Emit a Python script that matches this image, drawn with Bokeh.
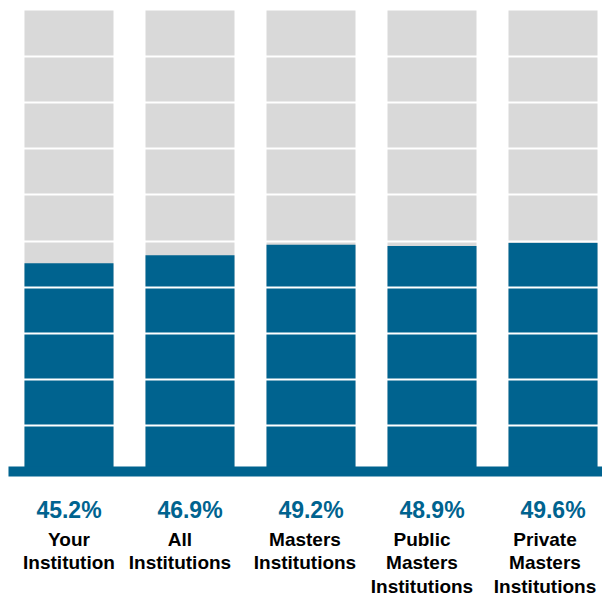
from bokeh.plotting import figure
from bokeh.models import Range1d, ColumnDataSource
from bokeh.core.properties import value
from bokeh.embed import file_html
from bokeh.resources import INLINE

# ---- data ----
categories = ["Your\nInstitution", "All\nInstitutions", "Masters\nInstitutions",
              "Public\nMasters\nInstitutions", "Private\nMasters\nInstitutions"]
values = [45.2, 46.9, 49.2, 48.9, 49.6]
full_scale = 100
grid_values = [10, 20, 30, 40, 50, 60, 70, 80, 90]

# ---- style ----
BLUE = "#00638f"
GRAY = "#d9d9d9"
FONT = "Liberation Sans"
label_dx = [0, -10, -6, -10, -8]

n = len(categories)
idx = list(range(n))
src = ColumnDataSource(dict(
    x=idx,
    full=[full_scale] * n,
    val=values,
    pct=[f"{v:.1f}%" for v in values],
    cat=categories,
    dx=label_dx,
    zero=[0] * n,
))

PX_PER_UNIT = 4.61
p = figure(width=602, height=596, output_backend="svg", toolbar_location=None,
           x_range=Range1d(-0.566, 4.409),
           y_range=Range1d(-(596 - 471) / PX_PER_UNIT, full_scale + 10 / PX_PER_UNIT),
           min_border=0, outline_line_color=None,
           x_axis_location=None, y_axis_location=None)
p.grid.visible = False
p.background_fill_color = "white"
p.border_fill_color = "white"

bw = 89 / 121
p.vbar(x="x", top="full", bottom=0, width=bw, source=src, fill_color=GRAY, line_color=None)
p.vbar(x="x", top="val", bottom=0, width=bw, source=src, fill_color=BLUE, line_color=None)

p.hspan(y=grid_values, line_color="white", line_width=2)

# baseline
p.segment(x0=[-0.5], y0=[0], x1=[n], y1=[0], line_color=BLUE, line_width=10, line_cap="butt")

p.text(x="x", y="zero", text="pct", source=src, y_offset=38,
       text_font=value(FONT), text_font_style="bold", text_font_size="23px",
       text_color=BLUE, text_align="center", text_baseline="alphabetic")

p.text(x="x", y="zero", text="cat", source=src, y_offset=57, x_offset="dx",
       text_font=value(FONT), text_font_style="bold", text_font_size="19px",
       text_color="black", text_align="center", text_baseline="top",
       text_line_height=1.12)

open("out.html", "w").write(file_html(p, INLINE))
